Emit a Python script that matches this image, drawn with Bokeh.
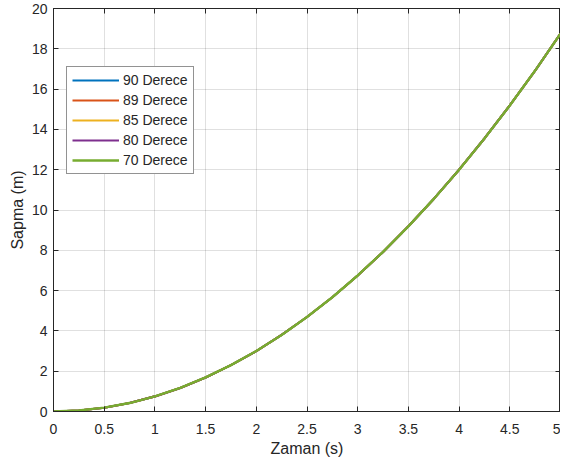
from bokeh.plotting import figure
from bokeh.models import LinearAxis, Legend, LegendItem, FixedTicker
from bokeh.embed import file_html
from bokeh.resources import INLINE

# Time (s)
t = [0, 0.25, 0.5, 0.75, 1.0, 1.25, 1.5, 1.75, 2.0, 2.25, 2.5, 2.75,
     3.0, 3.25, 3.5, 3.75, 4.0, 4.25, 4.5, 4.75, 5.0]
# Deviation (m) (all five curves overlap)
sapma_read = [0.0, 0.05, 0.19, 0.42, 0.75, 1.17, 1.69, 2.30, 3.0, 3.80, 4.69,
              5.67, 6.75, 7.92, 9.19, 10.55, 12.0, 13.55, 15.19, 16.92, 18.75]
y_90 = list(sapma_read)
y_89 = list(sapma_read)
y_85 = list(sapma_read)
y_80 = list(sapma_read)
y_70 = list(sapma_read)

labels = ["90 Derece", "89 Derece", "85 Derece", "80 Derece", "70 Derece"]
series = [y_90, y_89, y_85, y_80, y_70]
colors = ["#0072BD", "#D95319", "#EDB120", "#7E2F8E", "#77AC30"]

x_ticks = [0, 0.5, 1, 1.5, 2, 2.5, 3, 3.5, 4, 4.5, 5]
y_ticks = [0, 2, 4, 6, 8, 10, 12, 14, 16, 18, 20]

FONT = "Liberation Sans"
TXT = "#262626"

p = figure(width=560, height=460, output_backend="svg", toolbar_location=None,
           x_range=(0, 5), y_range=(0, 20),
           min_border_left=53, min_border_right=0, min_border_top=8,
           min_border_bottom=49)
p.background_fill_color = "white"
p.border_fill_color = "white"
p.outline_line_color = TXT
p.outline_line_width = 1

items = []
for i, (lab, ys, c) in enumerate(zip(labels, series, colors)):
    w = 2.4 if i == len(labels) - 1 else 2.1
    r = p.line(t, ys, line_color=c, line_width=w)
    items.append(LegendItem(label=lab, renderers=[r]))

for ax in [p.xaxis[0], p.yaxis[0]]:
    ax.major_tick_in = 5
    ax.major_tick_out = 0
    ax.minor_tick_in = 0
    ax.minor_tick_out = 0
    ax.axis_line_color = TXT
    ax.major_tick_line_color = TXT
    ax.major_label_text_font = FONT
    ax.major_label_text_font_size = "14px"
    ax.major_label_text_color = TXT
    ax.axis_label_text_font = FONT
    ax.axis_label_text_font_size = "16px"
    ax.axis_label_text_font_style = "normal"
    ax.axis_label_text_color = TXT

p.xaxis[0].ticker = FixedTicker(ticks=x_ticks)
p.yaxis[0].ticker = FixedTicker(ticks=y_ticks)
p.xaxis[0].axis_label = "Zaman (s)"
p.yaxis[0].axis_label = "Sapma (m)"
p.xaxis[0].major_label_standoff = 12
p.yaxis[0].major_label_standoff = 6
p.xaxis[0].axis_label_standoff = 3
p.yaxis[0].axis_label_standoff = 3

for loc, tick in [("above", x_ticks), ("right", y_ticks)]:
    ax = LinearAxis(ticker=FixedTicker(ticks=tick))
    ax.major_tick_in = 5
    ax.major_tick_out = 0
    ax.minor_tick_in = 0
    ax.minor_tick_out = 0
    ax.axis_line_color = TXT
    ax.major_tick_line_color = TXT
    ax.major_label_overrides = {tk: "" for tk in tick}
    ax.major_label_standoff = 0
    p.add_layout(ax, loc)

p.grid.grid_line_color = "#000000"
p.grid.grid_line_alpha = 0.12
p.xgrid.ticker = FixedTicker(ticks=x_ticks)
p.ygrid.ticker = FixedTicker(ticks=y_ticks)

legend = Legend(items=items, location=(13, 237))
legend.label_text_font = FONT
legend.label_text_font_size = "14px"
legend.label_text_color = TXT
legend.glyph_width = 47
legend.glyph_height = 16
legend.label_height = 16
legend.spacing = 4
legend.padding = 5
legend.margin = 0
legend.label_standoff = 4
legend.border_line_color = TXT
legend.border_line_width = 1
legend.background_fill_color = "white"
legend.background_fill_alpha = 1
p.add_layout(legend, "center")

open("out.html", "w").write(file_html(p, INLINE))
